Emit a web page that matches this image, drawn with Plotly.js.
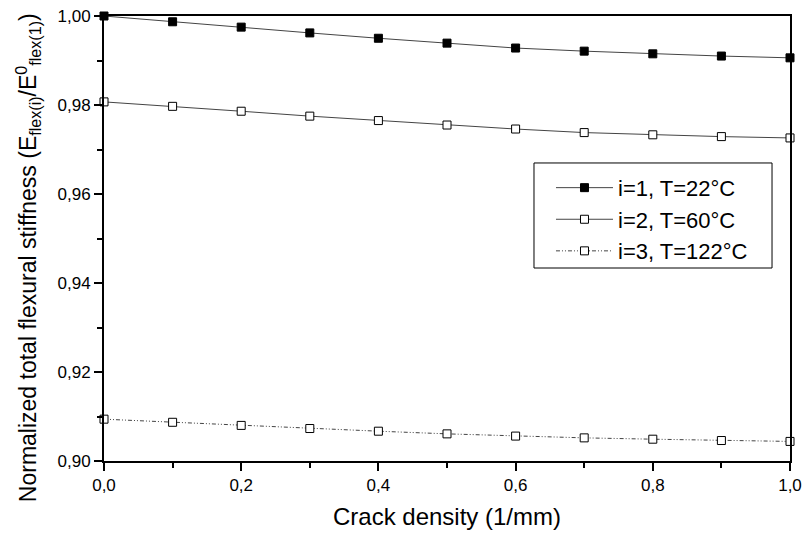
<!DOCTYPE html>
<html>
<head>
<meta charset="utf-8">
<script src="https://cdn.plot.ly/plotly-3.0.1.min.js"></script>
<style>html,body{margin:0;padding:0;background:#fff;}#chart{width:806px;height:536px;}</style>
</head>
<body>
<div id="chart"></div>
<script>
const crackDensity = [0.0, 0.1, 0.2, 0.3, 0.4, 0.5, 0.6, 0.7, 0.8, 0.9, 1.0];
const stiffT22 = [1.0000, 0.9987, 0.9975, 0.9962, 0.9950, 0.9939, 0.9928, 0.9921, 0.9915, 0.9910, 0.9906];
const stiffT60 = [0.9807, 0.9797, 0.9786, 0.9775, 0.9765, 0.9755, 0.9746, 0.9738, 0.9733, 0.9729, 0.9726];
const stiffT122 = [0.9094, 0.9087, 0.9080, 0.9073, 0.9067, 0.9061, 0.9056, 0.9052, 0.9049, 0.9046, 0.9044];
const seriesNames = ["i=1, T=22°C", "i=2, T=60°C", "i=3, T=122°C"];
const xTickVals = [0, 0.2, 0.4, 0.6, 0.8, 1.0];
const xTickText = ["0,0", "0,2", "0,4", "0,6", "0,8", "1,0"];
const yTickVals = [0.90, 0.92, 0.94, 0.96, 0.98, 1.00];
const yTickText = ["0,90", "0,92", "0,94", "0,96", "0,98", "1,00"];
const xTitle = 'Crack density (1/mm)';
const yTitle = 'Normalized total flexural stiffness (E<sub>flex(i)</sub>/E<sup>0</sup><sub>flex(1)</sub>)';

const lineColor = '#444';
const traces = [
  {x: crackDensity, y: stiffT22, name: seriesNames[0], mode: 'lines+markers',
   line: {color: lineColor, width: 1},
   marker: {symbol: 'square', size: 8, color: '#000', line: {color: '#000', width: 1}}, cliponaxis: false},
  {x: crackDensity, y: stiffT60, name: seriesNames[1], mode: 'lines+markers',
   line: {color: lineColor, width: 1},
   marker: {symbol: 'square', size: 8, color: '#fff', line: {color: '#000', width: 1}}, cliponaxis: false},
  {x: crackDensity, y: stiffT122, name: seriesNames[2], mode: 'lines+markers',
   line: {color: lineColor, width: 1, dash: '4px,2px,1px,2px,1px,2px'},
   marker: {symbol: 'square', size: 8, color: '#fff', line: {color: '#000', width: 1}}, cliponaxis: false}
];

const font = {family: 'Liberation Sans, Arial, sans-serif', color: '#000'};
const layout = {
  width: 806, height: 536,
  margin: {l: 104, r: 16, t: 16, b: 75},
  paper_bgcolor: '#fff', plot_bgcolor: '#fff',
  font: Object.assign({size: 17}, font),
  showlegend: true,
  legend: {x: 0.6516, y: 0.661, xanchor: 'left', yanchor: 'top',
    bgcolor: 'rgba(0,0,0,0)', borderwidth: 0,
    font: Object.assign({size: 22}, font), itemwidth: 57, tracegroupgap: 0},
  shapes: [{type: 'rect', xref: 'paper', yref: 'paper', x0: 0.6268, x1: 0.9738, y0: 0.4337, y1: 0.6697,
    line: {color: '#000', width: 1}, fillcolor: '#fff', layer: 'above'}],
  annotations: [{text: yTitle, xref: 'paper', yref: 'paper', x: -0.1108, y: 0.458,
    xanchor: 'center', yanchor: 'middle', textangle: -90, showarrow: false,
    font: Object.assign({size: 23}, font)}],
  xaxis: {
    range: [0, 1], tickvals: xTickVals, ticktext: xTickText,
    showgrid: false, zeroline: false, showline: true, mirror: true,
    linecolor: '#000', linewidth: 2,
    ticks: 'outside', ticklen: 8, tickwidth: 2, tickcolor: '#000',
    minor: {ticks: 'outside', dtick: 0.1, tick0: 0, ticklen: 5, tickwidth: 2, tickcolor: '#000', showgrid: false},
    tickfont: Object.assign({size: 17}, font),
    title: {text: xTitle, font: Object.assign({size: 24}, font), standoff: 14}
  },
  yaxis: {
    range: [0.90, 1.00], tickvals: yTickVals, ticktext: yTickText,
    showgrid: false, zeroline: false, showline: true, mirror: true,
    linecolor: '#000', linewidth: 2,
    ticks: 'outside', ticklen: 8, tickwidth: 2, tickcolor: '#000',
    minor: {ticks: 'outside', dtick: 0.01, tick0: 0.9, ticklen: 5, tickwidth: 2, tickcolor: '#000', showgrid: false},
    tickfont: Object.assign({size: 17}, font)
  }
};

Plotly.newPlot('chart', traces, layout, {displayModeBar: false, staticPlot: true});
</script>
</body>
</html>
